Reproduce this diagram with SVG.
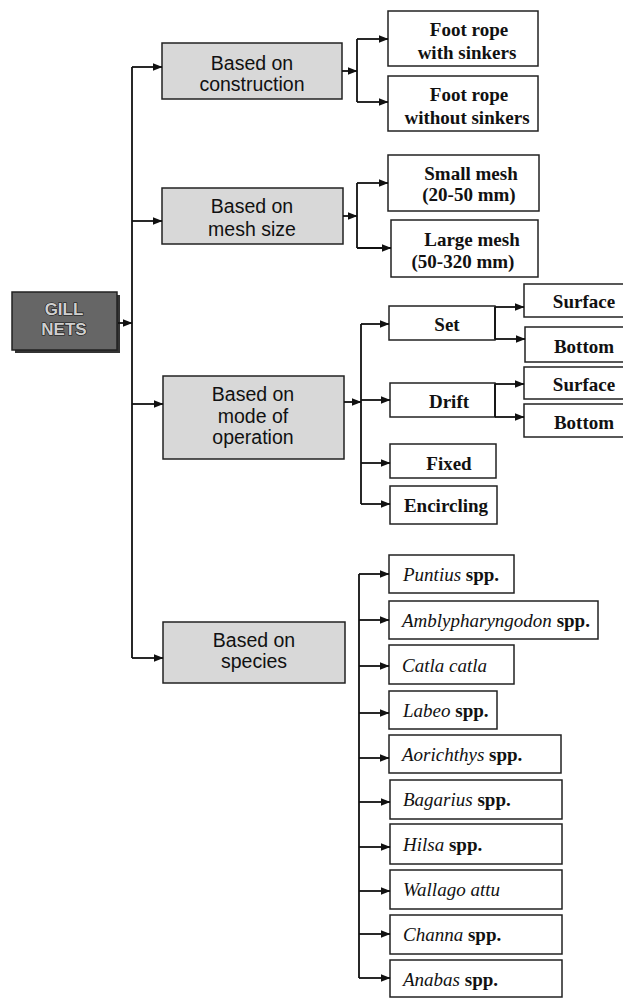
<svg xmlns="http://www.w3.org/2000/svg" width="623" height="998" viewBox="0 0 623 998">
<defs>
<marker id="ah" markerUnits="userSpaceOnUse" markerWidth="10" markerHeight="8" refX="9.5" refY="4" orient="auto">
<path d="M0,0 L10,4 L0,8 z" fill="#111"/>
</marker>
</defs>
<style>
.cat{fill:#d8d8d8;stroke:#222;stroke-width:1.5}
.leaf{fill:#fff;stroke:#222;stroke-width:1.5}
.ct{font-family:"Liberation Sans",Arial,sans-serif;font-size:19.5px;fill:#111;text-anchor:middle}
.lt{font-family:"Liberation Serif","Times New Roman",serif;font-size:19px;font-weight:bold;fill:#111;text-anchor:middle}
.st{font-family:"Liberation Serif","Times New Roman",serif;font-size:19px;fill:#111}
.it{font-style:italic}
.bd{font-weight:bold}
.gt{font-family:"Liberation Sans",Arial,sans-serif;font-size:17px;font-weight:bold;fill:#cfcfcf;stroke:#111;stroke-width:1.2;text-anchor:middle;paint-order:stroke}
.c path{fill:none;stroke:#111;stroke-width:1.8}
.a{marker-end:url(#ah)}
</style>
<rect width="623" height="998" fill="#fff"/>

<g id="gill-nets">
<rect x="15" y="295" width="105" height="58" fill="#333"/>
<rect x="12" y="292" width="105" height="58" fill="#666" stroke="#222" stroke-width="1.5"/>
<text class="gt" x="64" y="315">GILL</text>
<text class="gt" x="64" y="335">NETS</text>
</g>

<g id="based-on-construction">
<rect class="cat" x="162" y="43" width="180" height="56"/>
<text class="ct" x="252" y="70">Based on</text>
<text class="ct" x="252" y="91">construction</text>
</g>
<g id="based-on-mesh-size">
<rect class="cat" x="162" y="188" width="181" height="56"/>
<text class="ct" x="252" y="213">Based on</text>
<text class="ct" x="252" y="236">mesh size</text>
</g>
<g id="based-on-mode">
<rect class="cat" x="163" y="376" width="181" height="83"/>
<text class="ct" x="253" y="401">Based on</text>
<text class="ct" x="253" y="423">mode of</text>
<text class="ct" x="253" y="444">operation</text>
</g>
<g id="based-on-species">
<rect class="cat" x="163" y="622" width="182" height="61"/>
<text class="ct" x="254" y="647">Based on</text>
<text class="ct" x="254" y="668">species</text>
</g>

<g id="foot-rope-with">
<rect class="leaf" x="388" y="11" width="150" height="55"/>
<text class="lt" x="469" y="36">Foot rope</text>
<text class="lt" x="467" y="59">with sinkers</text>
</g>
<g id="foot-rope-without">
<rect class="leaf" x="388" y="76" width="150" height="55"/>
<text class="lt" x="469" y="101">Foot rope</text>
<text class="lt" x="467" y="124">without sinkers</text>
</g>
<g id="small-mesh">
<rect class="leaf" x="388" y="155" width="151" height="56"/>
<text class="lt" x="471" y="180">Small mesh</text>
<text class="lt" x="469" y="201">(20-50 mm)</text>
</g>
<g id="large-mesh">
<rect class="leaf" x="391" y="220" width="147" height="57"/>
<text class="lt" x="472" y="246">Large mesh</text>
<text class="lt" x="463" y="268">(50-320 mm)</text>
</g>

<g id="set">
<rect class="leaf" x="389" y="306" width="106" height="34"/>
<text class="lt" x="447" y="331">Set</text>
</g>
<g id="drift">
<rect class="leaf" x="390" y="383" width="105" height="34"/>
<text class="lt" x="449" y="408">Drift</text>
</g>
<g id="fixed">
<rect class="leaf" x="390" y="444" width="106" height="34"/>
<text class="lt" x="449" y="470">Fixed</text>
</g>
<g id="encircling">
<rect class="leaf" x="390" y="486" width="107" height="38"/>
<text class="lt" x="446" y="512">Encircling</text>
</g>
<g id="set-surface">
<rect class="leaf" x="524" y="284" width="110" height="33"/>
<text class="lt" x="584" y="308">Surface</text>
</g>
<g id="set-bottom">
<rect class="leaf" x="525" y="327" width="110" height="35"/>
<text class="lt" x="584" y="353">Bottom</text>
</g>
<g id="drift-surface">
<rect class="leaf" x="524" y="367" width="110" height="32"/>
<text class="lt" x="584" y="391">Surface</text>
</g>
<g id="drift-bottom">
<rect class="leaf" x="524" y="404" width="110" height="33"/>
<text class="lt" x="584" y="429">Bottom</text>
</g>

<g id="puntius">
<rect class="leaf" x="389" y="555" width="125" height="38"/>
<text class="st" x="403" y="581"><tspan class="it">Puntius</tspan> <tspan class="bd">spp.</tspan></text>
</g>
<g id="amblypharyngodon">
<rect class="leaf" x="389" y="601" width="209" height="38"/>
<text class="st" x="402" y="627"><tspan class="it">Amblypharyngodon</tspan> <tspan class="bd">spp.</tspan></text>
</g>
<g id="catla">
<rect class="leaf" x="389" y="645" width="125" height="39"/>
<text class="st it" x="402" y="672">Catla catla</text>
</g>
<g id="labeo">
<rect class="leaf" x="389" y="691" width="108" height="38"/>
<text class="st" x="403" y="717"><tspan class="it">Labeo</tspan> <tspan class="bd">spp.</tspan></text>
</g>
<g id="aorichthys">
<rect class="leaf" x="389" y="735" width="172" height="38"/>
<text class="st" x="402" y="761"><tspan class="it">Aorichthys</tspan> <tspan class="bd">spp.</tspan></text>
</g>
<g id="bagarius">
<rect class="leaf" x="390" y="780" width="172" height="39"/>
<text class="st" x="403" y="806"><tspan class="it">Bagarius</tspan> <tspan class="bd">spp.</tspan></text>
</g>
<g id="hilsa">
<rect class="leaf" x="390" y="824" width="172" height="40"/>
<text class="st" x="403" y="851"><tspan class="it">Hilsa</tspan> <tspan class="bd">spp.</tspan></text>
</g>
<g id="wallago">
<rect class="leaf" x="390" y="870" width="172" height="39"/>
<text class="st it" x="403" y="896">Wallago attu</text>
</g>
<g id="channa">
<rect class="leaf" x="390" y="915" width="172" height="39"/>
<text class="st" x="403" y="941"><tspan class="it">Channa</tspan> <tspan class="bd">spp.</tspan></text>
</g>
<g id="anabas">
<rect class="leaf" x="390" y="960" width="172" height="37"/>
<text class="st" x="403" y="986"><tspan class="it">Anabas</tspan> <tspan class="bd">spp.</tspan></text>
</g>

<g id="connectors" class="c">
<path class="a" d="M118,323 H132"/>
<path d="M132,67 V658"/>
<path class="a" d="M132,67 H162"/>
<path class="a" d="M132,221 H162"/>
<path class="a" d="M132,404 H163"/>
<path class="a" d="M132,658 H163"/>
<path class="a" d="M342,71 H357"/>
<path d="M357,39 V102"/>
<path class="a" d="M357,39 H388"/>
<path class="a" d="M357,102 H388"/>
<path class="a" d="M343,216 H357"/>
<path d="M357,183 V248"/>
<path class="a" d="M357,183 H388"/>
<path class="a" d="M357,248 H391"/>
<path class="a" d="M344,402 H361"/>
<path d="M361,324 V504"/>
<path class="a" d="M361,324 H389"/>
<path class="a" d="M361,400 H390"/>
<path class="a" d="M361,463 H390"/>
<path class="a" d="M361,504 H390"/>
<path d="M495,307 V339"/>
<path class="a" d="M495,307 H524"/>
<path class="a" d="M495,339 H525"/>
<path d="M495,384 V417"/>
<path class="a" d="M495,384 H524"/>
<path class="a" d="M495,417 H524"/>
<path d="M359,574 V978"/>
<path class="a" d="M359,574 H389"/>
<path class="a" d="M359,620 H389"/>
<path class="a" d="M359,666 H389"/>
<path class="a" d="M359,713 H389"/>
<path class="a" d="M359,758 H389"/>
<path class="a" d="M359,802 H390"/>
<path class="a" d="M359,847 H390"/>
<path class="a" d="M359,891 H390"/>
<path class="a" d="M359,934 H390"/>
<path class="a" d="M359,978 H390"/>
</g>
</svg>
